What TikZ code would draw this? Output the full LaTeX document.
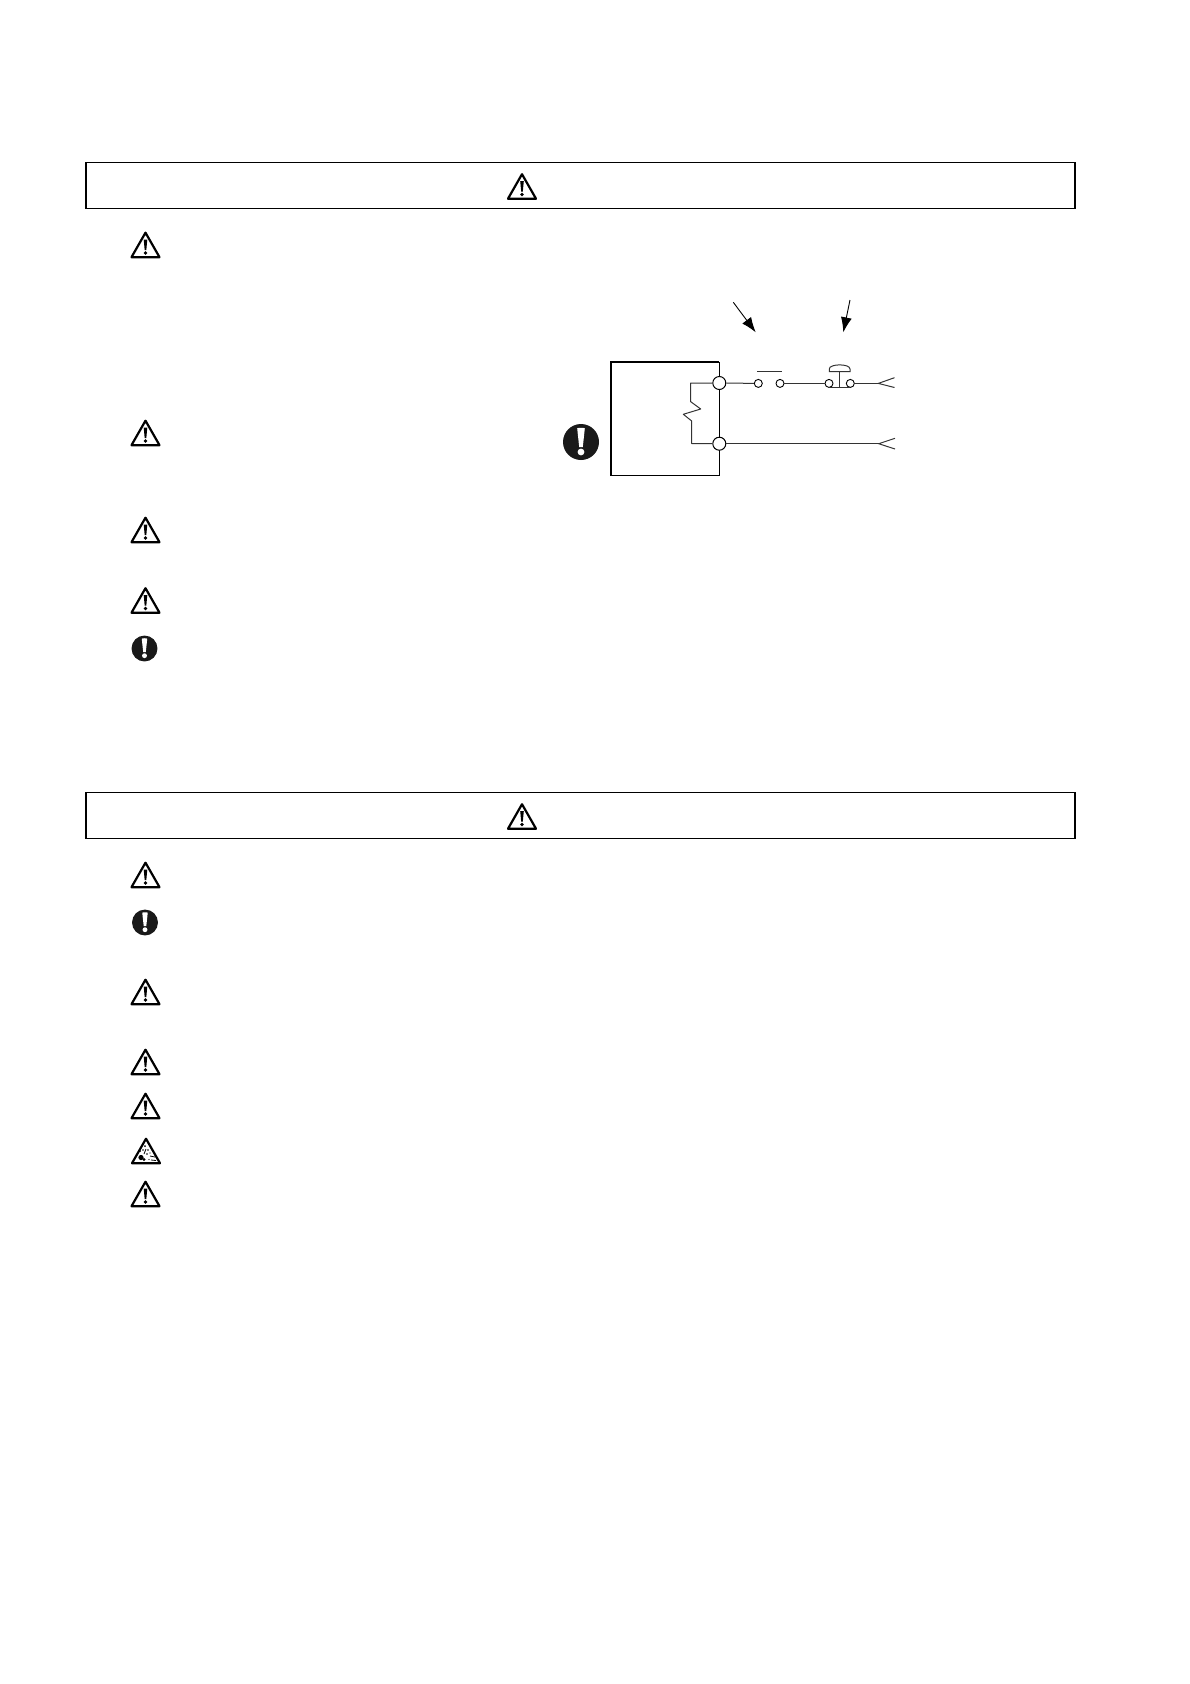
\documentclass[tikz,border=0pt]{standalone}
\usetikzlibrary{arrows.meta}
\tikzset{
  warntri/.pic={
    \draw[line width=2.2pt, line join=round] (0,-12.3) -- (-14,12.2) -- (14,12.2) -- cycle;
    \fill (-1.8,-5.5) -- (1.8,-5.5) -- (0.8,5.2) -- (-0.8,5.2) -- cycle;
    \fill (0,8) circle[radius=1.8];
  },
  blasttri/.pic={
    \draw[line width=2.2pt, line join=round] (0,-12.3) -- (-14,12.2) -- (14,12.2) -- cycle;
    \fill (-5,6.5) circle[radius=2.6];
    \fill (-2,8.5) circle[radius=1.6];
    \fill (-1,-5) circle[radius=1];
    \fill (-6,0) circle[radius=1];
    \fill (-3,-1) circle[radius=0.8];
    \fill (2,-1) circle[radius=0.9];
    \fill (1,3) circle[radius=0.9];
    \fill (4,2) circle[radius=0.7];
    \fill (3,8.5) circle[radius=0.7];
    \draw[line width=0.8pt] (-2,3) -- (0,-2);
    \draw[line width=0.8pt] (4,5) -- (9,6);
    \draw[line width=0.8pt] (5,9) -- (10,9.5);
  },
  stopdisc/.pic={
    \fill[black!90] (0,0) circle[radius=18];
    \fill[white] (-3.8,-13.5) .. controls (-3.8,-14.5) and (3.8,-14.5) .. (3.8,-13.5) -- (1.8,5) -- (-1.8,5) -- cycle;
    \fill[white] (0,10) circle[radius=3.4];
  },
  headbox/.style={draw, line width=1.2pt, minimum width=989pt, minimum height=46pt, inner sep=0pt},
  terminal/.style={draw, fill=white, circle, line width=1pt, minimum size=13pt, inner sep=0pt},
  contact/.style={draw, fill=white, circle, line width=0.9pt, minimum size=8pt, inner sep=0pt},
  wire/.style={line width=1pt, black!80},
  pointer/.style={line width=0.9pt, -{Latex[length=15pt,width=11pt]}}
}
\begin{document}
\begin{tikzpicture}[x=1pt,y=-1pt]
\useasboundingbox (0,0) rectangle (1190,1684);

% Header frames
\node[headbox] (headA) at (580.5,185.3) {};
\node[headbox] (headB) at (580.5,815.3) {};
\pic at (522,186.5) {warntri};
\pic at (522,816.5) {warntri};

% Symbols of the first list
\pic at (145.5,245) {warntri};
\pic at (145.5,433) {warntri};
\pic at (145.5,530) {warntri};
\pic at (145.5,600.5) {warntri};
\pic[scale=0.72] at (144.5,648.5) {stopdisc};

% Symbols of the second list
\pic at (145.5,875) {warntri};
\pic[scale=0.72] at (145,922.5) {stopdisc};
\pic at (145.5,992) {warntri};
\pic at (145.5,1062) {warntri};
\pic at (145.5,1106) {warntri};
\pic at (146,1151) {blasttri};
\pic at (145.5,1194) {warntri};

% Circuit: unit outline
\coordinate (unitTL) at (611,362);
\coordinate (unitTR) at (719.3,362);
\coordinate (unitBL) at (611,475.5);
\coordinate (unitBR) at (719.3,475.5);
\draw[line width=1.8pt] (unitBL) -- (unitTL) -- (unitTR);
\draw[line width=1.2pt] (unitBL) -- (unitBR) -- (unitTR);
\pic at (581,442) {stopdisc};

% Terminals and contacts
\node[terminal] (termA) at (719.3,383) {};
\node[terminal] (termB) at (719.3,443.7) {};
\node[contact] (swA) at (758.3,383.4) {};
\node[contact] (swB) at (780,383.4) {};
\node[contact] (pbA) at (829,383.4) {};
\node[contact] (pbB) at (850.3,383.4) {};

% Coil between the terminals
\coordinate (coilTop) at (690.7,383);
\coordinate (coilBot) at (691.7,443.7);
\draw[wire, line join=round] (termA) -- (coilTop) -- (690.7,401.7) -- (700.7,409) -- (683.3,414.3)
  -- (691.7,421) -- (coilBot) -- (termB);

% Wires
\coordinate (forkA) at (878.3,383.4);
\coordinate (forkB) at (878.7,443.7);
\draw[wire] (termA) -- (swA);
\draw[wire] (swB) -- (pbA);
\draw[wire] (pbB) -- (forkA);
\draw[wire] (termB) -- (forkB);

% Open ends
\draw[wire] (894.5,377.7) -- (forkA) -- (894.5,387.5);
\draw[wire] (895,438.3) -- (forkB) -- (895,449);

% Switch bar
\draw[wire] (757.3,371) -- (781.7,371);

% Push button
\draw[wire] (pbA.south) -- (pbB.south);
\draw[wire] (839.3,387.4) -- (839.3,371.7);
\draw[wire] (829.3,371.7) -- (850,371.7) -- (850,369) .. controls (850,363.5) and (829.3,363.5) .. (829.3,369) -- cycle;

% Pointers
\coordinate (ptrA) at (733.3,302.3);
\coordinate (ptrAend) at (755.7,332.3);
\coordinate (ptrB) at (850,300);
\coordinate (ptrBend) at (843.3,332.3);
\draw[pointer] (ptrA) -- (ptrAend);
\draw[pointer] (ptrB) -- (ptrBend);

\end{tikzpicture}
\end{document}
